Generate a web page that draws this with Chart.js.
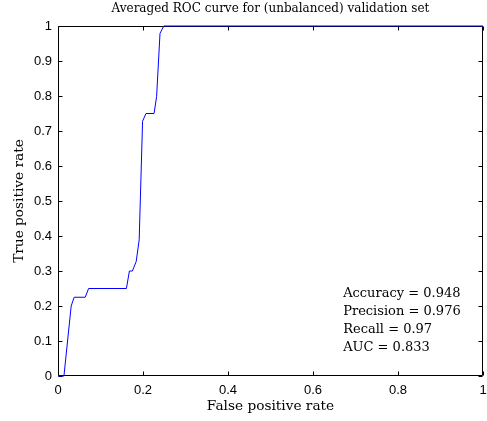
<!DOCTYPE html>
<html>
<head>
<meta charset="utf-8">
<script src="https://cdn.jsdelivr.net/npm/chart.js@4/dist/chart.umd.min.js"></script>
<style>
  html, body { margin: 0; padding: 0; background: #fff; }
  #wrap { width: 487px; height: 421px; }
</style>
</head>
<body>
<div id="wrap"><canvas id="c" width="487" height="421"></canvas></div>
<script>
// ---- data ----
const chartTitle = 'Averaged ROC curve for (unbalanced) validation set';
const xLabel = 'False positive rate';
const yLabel = 'True positive rate';
const falsePositiveRate = [0, 0.014, 0.031, 0.038, 0.064, 0.072, 0.161, 0.168, 0.175, 0.184, 0.191, 0.199, 0.207, 0.226, 0.232, 0.240, 0.249, 1];
const truePositiveRate  = [0, 0,     0.20,  0.225, 0.225, 0.25,  0.25,  0.30,  0.30,  0.327, 0.389, 0.728, 0.75,  0.75,  0.798, 0.979, 1.0,   1];
const xTicks = [0, 0.2, 0.4, 0.6, 0.8, 1];
const yTicks = [0, 0.1, 0.2, 0.3, 0.4, 0.5, 0.6, 0.7, 0.8, 0.9, 1];
const statsLines = ['Accuracy = 0.948', 'Precision = 0.976', 'Recall = 0.97', 'AUC = 0.833'];
const statsAnchor = [0.671, 0.236];

const serif = 'DejaVu Serif';
const sans = 'Liberation Sans';

const points = falsePositiveRate.map((x, i) => ({ x: x, y: truePositiveRate[i] }));

function fmt(v) { return String(Math.round(v * 10) / 10); }

const boxPlugin = {
  id: 'matlabBox',
  beforeDatasetsDraw(chart) {
    const { ctx, chartArea: a, scales } = chart;
    ctx.save();
    ctx.strokeStyle = '#000';
    ctx.lineWidth = 1;
    const L = Math.round(a.left) + 0.5, R = Math.round(a.right) - 0.5;
    const T = Math.round(a.top) + 0.5, B = Math.round(a.bottom) - 0.5;
    ctx.beginPath();
    ctx.moveTo(L, T); ctx.lineTo(R, T); ctx.lineTo(R, B); ctx.lineTo(L, B); ctx.closePath();
    ctx.stroke();
    const tl = 4;
    ctx.beginPath();
    xTicks.forEach(v => {
      const px = Math.round(scales.x.getPixelForValue(v)) + 0.5;
      ctx.moveTo(px, B); ctx.lineTo(px, B - tl);
      ctx.moveTo(px, T); ctx.lineTo(px, T + tl);
    });
    yTicks.forEach(v => {
      const py = Math.round(scales.y.getPixelForValue(v)) + 0.5;
      ctx.moveTo(L, py); ctx.lineTo(L + tl, py);
      ctx.moveTo(R, py); ctx.lineTo(R - tl, py);
    });
    ctx.stroke();
    ctx.restore();
  },
  afterDraw(chart) {
    const { ctx, scales } = chart;
    ctx.save();
    ctx.fillStyle = '#000';
    ctx.font = '13px "' + serif + '"';
    ctx.textAlign = 'left';
    ctx.textBaseline = 'middle';
    const sx = scales.x.getPixelForValue(statsAnchor[0]);
    const sy = scales.y.getPixelForValue(statsAnchor[1]);
    statsLines.forEach((t, i) => ctx.fillText(t, sx, sy + i * 18.2));
    ctx.restore();
  }
};

new Chart(document.getElementById('c'), {
  type: 'line',
  data: {
    datasets: [{
      data: points,
      borderColor: '#0000ff',
      borderWidth: 1,
      pointRadius: 0,
      fill: false,
      tension: 0,
      clip: 2
    }]
  },
  options: {
    responsive: false,
    devicePixelRatio: 1,
    animation: false,
    layout: { padding: 0 },
    plugins: { legend: { display: false }, tooltip: { enabled: false }, title: { display: false } },
    scales: {
      x: {
        type: 'linear', position: 'bottom', min: 0, max: 1,
        afterBuildTicks: s => { s.ticks = xTicks.map(v => ({ value: v })); },
        afterFit: s => { s.height = 45; s.paddingLeft = 0; s.paddingRight = 0; },
        grid: { display: false, drawTicks: false },
        border: { display: false },
        ticks: { color: '#000', font: { family: sans, size: 13 }, padding: 7, maxRotation: 0, autoSkip: false, callback: v => fmt(v) },
        title: { display: true, text: xLabel, color: '#000', font: { family: serif, size: 13.7 }, padding: { top: 0, bottom: 6.7 } }
      },
      xTop: {
        type: 'linear', position: 'top', min: 0, max: 1,
        afterFit: s => { s.height = 26; s.paddingLeft = 0; s.paddingRight = 0; },
        grid: { display: false, drawTicks: false },
        border: { display: false },
        ticks: { display: false },
        title: { display: true, text: chartTitle, color: '#000', font: { family: serif, size: 12 }, padding: { top: 1.5, bottom: 0 } }
      },
      y: {
        type: 'linear', position: 'left', min: 0, max: 1,
        afterBuildTicks: s => { s.ticks = yTicks.map(v => ({ value: v })); },
        afterFit: s => { s.width = 58; },
        grid: { display: false, drawTicks: false },
        border: { display: false },
        ticks: { color: '#000', font: { family: sans, size: 13 }, padding: 6, autoSkip: false, callback: v => fmt(v) },
        title: { display: true, text: yLabel, color: '#000', font: { family: serif, size: 13.7 }, padding: { top: 11.3, bottom: 0 } }
      },
      yRight: {
        type: 'linear', position: 'right', min: 0, max: 1,
        afterFit: s => { s.width = 4; },
        grid: { display: false, drawTicks: false },
        border: { display: false },
        ticks: { display: false }
      }
    }
  },
  plugins: [boxPlugin]
});
</script>
</body>
</html>
